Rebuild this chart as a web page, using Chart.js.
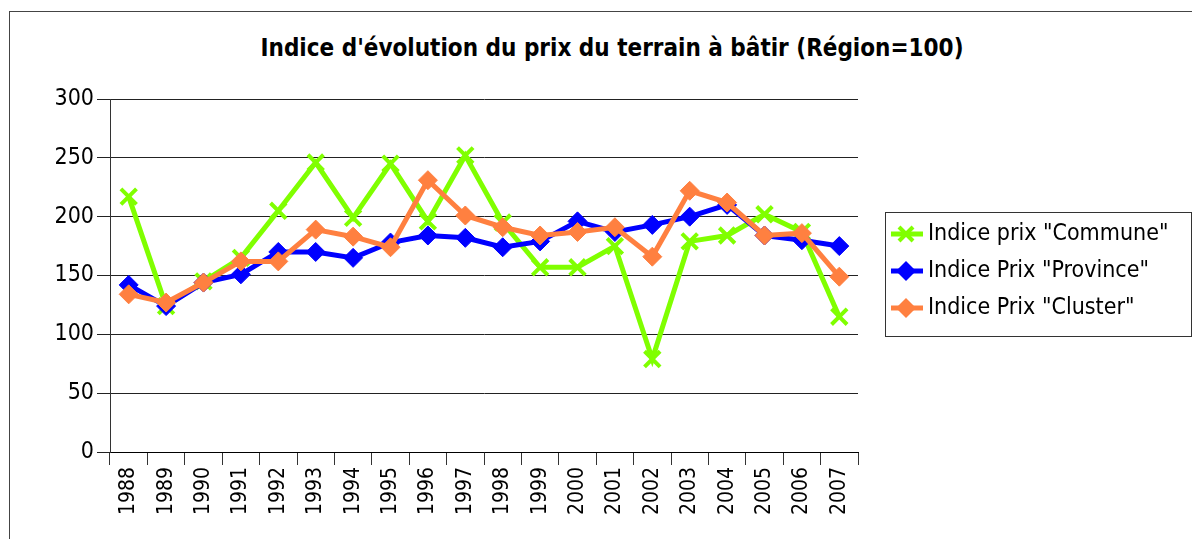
<!DOCTYPE html>
<html>
<head>
<meta charset="utf-8">
<script src="https://cdn.jsdelivr.net/npm/chart.js"></script>
<style>
  body { margin: 0; width: 1192px; height: 539px; overflow: hidden; background: #fff; position: relative; }
  #frame { position: absolute; left: 9px; top: 11px; width: 1300px; height: 600px;
           border-top: 1px solid #444; border-left: 1px solid #444; }
  #title { position: absolute; left: 0; top: 34px; width: 1224px; text-align: center;
           font: bold 24px "DejaVu Sans Condensed", "DejaVu Sans", sans-serif; line-height: 28px; color: #000; }
  canvas { position: absolute; left: 0; top: 0; }
  #legend { position: absolute; left: 885px; top: 212px; width: 305px; height: 123px; border: 1px solid #333; }
  .item { position: absolute; left: 0; height: 28px; white-space: nowrap; }
  .item svg { position: absolute; left: 5px; top: 4px; }
  .item span { position: absolute; left: 42px; top: 0; font: 23px "DejaVu Sans Condensed", "DejaVu Sans", sans-serif;
               line-height: 28px; color: #000; }
</style>
</head>
<body>
<div id="frame"></div>
<div id="title">Indice d'évolution du prix du terrain à bâtir (Région=100)</div>
<canvas id="chart" width="1192" height="539"></canvas>
<div id="legend"></div>
<script>
// data
const years = ['1988', '1989', '1990', '1991', '1992', '1993', '1994', '1995', '1996', '1997',
               '1998', '1999', '2000', '2001', '2002', '2003', '2004', '2005', '2006', '2007'];
const communeValues  = [217, 124, 145, 165, 205, 246, 199, 245, 196, 252, 195, 157, 157, 175, 79, 179, 184, 202, 187, 115];
const provinceValues = [142, 124, 144, 151, 170, 170, 165, 178, 184, 182, 174, 179, 196, 187, 193, 200, 210, 184, 180, 175];
const clusterValues  = [134, 127, 144, 162, 162, 189, 183, 174, 231, 201, 191, 184, 187, 191, 166, 222, 212, 184, 186, 149];
const seriesNames = ['Indice prix "Commune"', 'Indice Prix "Province"', 'Indice Prix "Cluster"'];
const yTickValues = [0, 50, 100, 150, 200, 250, 300];

const GREEN = '#80ff00';
const BLUE = '#0000ff';
const ORANGE = '#ff8040';
const FONT = '"DejaVu Sans Condensed", "DejaVu Sans", sans-serif';

new Chart(document.getElementById('chart'), {
    type: 'line',
    data: {
        labels: years,
        datasets: [
            {
                label: seriesNames[0],
                data: communeValues,
                borderColor: GREEN,
                backgroundColor: GREEN,
                borderWidth: 5,
                pointStyle: 'crossRot',
                pointRadius: 11,
                pointBorderWidth: 4,
                pointBorderColor: GREEN,
                order: 3
            },
            {
                label: seriesNames[1],
                data: provinceValues,
                borderColor: BLUE,
                backgroundColor: BLUE,
                borderWidth: 5,
                pointStyle: 'rectRot',
                pointRadius: 9.5,
                pointBorderWidth: 1,
                order: 2
            },
            {
                label: seriesNames[2],
                data: clusterValues,
                borderColor: ORANGE,
                backgroundColor: ORANGE,
                borderWidth: 5,
                pointStyle: 'rectRot',
                pointRadius: 9.5,
                pointBorderWidth: 1,
                order: 1
            }
        ]
    },
    options: {
        responsive: false,
        animation: false,
        devicePixelRatio: 1,
        layout: { padding: { left: 0, right: 334, top: 99, bottom: 0 } },
        plugins: {
            legend: { display: false },
            title: { display: false },
            tooltip: { enabled: false }
        },
        elements: { line: { tension: 0 } },
        scales: {
            x: {
                offset: true,
                afterFit: scale => { scale.height = 87; },
                grid: { drawOnChartArea: false, drawTicks: true, tickLength: 13, color: '#333', offset: true },
                border: { display: true, color: '#000', width: 1 },
                ticks: {
                    minRotation: 90,
                    maxRotation: 90,
                    autoSkip: false,
                    padding: 2,
                    color: '#000',
                    font: { family: FONT, size: 21 }
                }
            },
            y: {
                min: 0,
                max: 300,
                afterFit: scale => { scale.width = 110; },
                afterBuildTicks: scale => { scale.ticks = yTickValues.map(v => ({ value: v })); },
                grid: { color: '#222', tickLength: 13 },
                border: { display: true, color: '#333', width: 1 },
                ticks: {
                    padding: 3,
                    color: '#000',
                    font: { family: FONT, size: 23 }
                }
            }
        }
    }
});

// legend box with line + marker icons
const icons = [
    '<line x1="0" y1="12" x2="32" y2="12" stroke="' + GREEN + '" stroke-width="5"/>' +
    '<line x1="8" y1="5" x2="22" y2="19" stroke="' + GREEN + '" stroke-width="4"/>' +
    '<line x1="22" y1="5" x2="8" y2="19" stroke="' + GREEN + '" stroke-width="4"/>',
    '<line x1="0" y1="12" x2="32" y2="12" stroke="' + BLUE + '" stroke-width="5"/>' +
    '<polygon points="15,2 25,12 15,22 5,12" fill="' + BLUE + '"/>',
    '<line x1="0" y1="12" x2="32" y2="12" stroke="' + ORANGE + '" stroke-width="5"/>' +
    '<polygon points="15,2 25,12 15,22 5,12" fill="' + ORANGE + '"/>'
];
const rowTops = [5, 42, 79];
const legend = document.getElementById('legend');
seriesNames.forEach((name, i) => {
    const item = document.createElement('div');
    item.className = 'item';
    item.style.top = rowTops[i] + 'px';
    item.innerHTML = '<svg width="34" height="24">' + icons[i] + '</svg><span></span>';
    item.querySelector('span').textContent = name;
    legend.appendChild(item);
});
</script>
</body>
</html>
